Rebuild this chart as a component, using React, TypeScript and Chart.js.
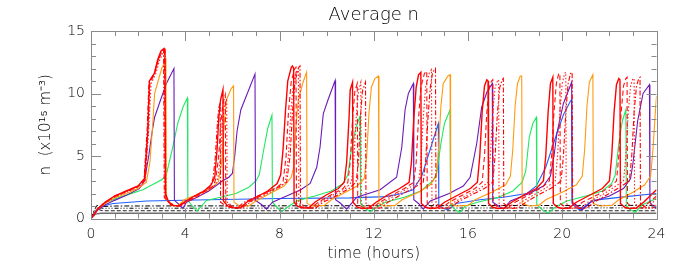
import React, { useEffect, useRef } from "react";
import { Chart, registerables } from "chart.js";

Chart.register(...registerables);

const titleText = "Average n";
const xTitle = "time (hours)";
const yTitle = "n  (x10\u00b9\u2075 m\u207b\u00b3)";
const xRange = [0, 24];
const yRange = [0, 15];
const xMajorStep = 4;
const yMajorStep = 5;

const redSolid = [[0,0],[0.15,0.4],[0.3,0.8],[0.6,1.3],[1.0,1.8],[1.5,2.2],[2.0,2.6],[2.27,3.2],[2.41,7.0],[2.48,11.0],[2.69,11.6],[2.83,12.7],[2.97,13.4],[3.1,13.6],[3.14,13.2],[3.16,2.0],[3.3,1.3],[3.5,1.05],[3.75,1.0],[3.95,1.3],[4.3,1.7],[4.8,2.2],[5.1,2.7],[5.25,3.3],[5.35,5.5],[5.42,8.0],[5.5,9.5],[5.6,10.3],[5.62,1.4],[5.8,1.0],[6.05,0.85],[6.35,0.85],[6.6,1.3],[7.0,1.7],[7.5,2.2],[7.9,2.8],[8.05,3.5],[8.15,5.5],[8.25,8.5],[8.35,11.0],[8.5,12.1],[8.55,12.2],[8.6,12.0],[8.62,1.3],[8.75,1.0],[8.95,0.85],[9.25,0.85],[9.5,1.3],[10.0,1.9],[10.5,2.4],[10.75,2.9],[10.85,4.5],[10.95,8.0],[11.0,10.3],[11.1,10.9],[11.12,1.3],[11.3,0.9],[11.5,0.8],[11.8,0.85],[12.1,1.3],[12.6,1.9],[13.1,2.4],[13.5,2.9],[13.6,4.5],[13.7,8.0],[13.8,10.5],[13.9,11.5],[14.0,11.7],[14.02,1.2],[14.2,0.9],[14.4,0.8],[14.7,0.85],[15.0,1.3],[15.6,1.9],[16.1,2.4],[16.4,2.9],[16.5,5.0],[16.6,8.5],[16.7,10.6],[16.8,11.1],[16.85,11.0],[16.87,1.2],[17.05,0.9],[17.25,0.8],[17.55,0.85],[17.85,1.3],[18.4,1.9],[18.9,2.4],[19.2,3.0],[19.3,5.0],[19.4,8.5],[19.5,10.8],[19.6,11.3],[19.62,1.2],[19.8,0.9],[20.0,0.8],[20.3,0.85],[20.6,1.3],[21.2,1.9],[21.7,2.4],[22.0,3.0],[22.1,5.0],[22.2,8.5],[22.3,10.7],[22.4,11.2],[22.45,11.1],[22.47,1.2],[22.65,0.9],[22.85,0.8],[23.15,0.85],[23.45,1.3],[24.0,2.3]];

const redDashed = [[0,0],[0.3,0.8],[0.6,1.3],[1.0,1.75],[1.5,2.15],[2.0,2.55],[2.3,3.1],[2.42,7.0],[2.5,10.8],[2.7,11.6],[2.85,12.6],[3.0,13.3],[3.12,13.4],[3.15,1.6],[3.45,1.05],[3.75,1.0],[4.0,1.3],[4.6,1.9],[5.2,2.6],[5.3,3.2],[5.42,5.0],[5.52,7.8],[5.6,9.2],[5.7,9.9],[5.72,1.3],[6.0,0.9],[6.4,0.85],[6.7,1.3],[7.3,1.9],[7.9,2.5],[8.15,2.9],[8.28,5.0],[8.38,8.5],[8.5,11.0],[8.65,12.0],[8.7,12.1],[8.72,1.2],[9.0,0.85],[9.35,0.85],[9.65,1.3],[10.2,1.9],[10.7,2.4],[10.9,2.9],[11.0,4.5],[11.1,8.0],[11.2,10.2],[11.3,10.8],[11.32,1.2],[11.6,0.8],[11.95,0.85],[12.25,1.3],[12.8,1.9],[13.3,2.4],[13.7,2.9],[13.8,4.5],[13.9,8.0],[14.0,10.5],[14.15,11.6],[14.25,11.8],[14.27,1.2],[14.55,0.8],[14.9,0.85],[15.2,1.3],[15.8,1.9],[16.3,2.4],[16.6,2.9],[16.7,5.0],[16.8,8.5],[16.9,10.5],[17.0,11.0],[17.05,11.1],[17.07,1.2],[17.35,0.8],[17.7,0.85],[18.0,1.3],[18.6,1.9],[19.15,2.5],[19.45,3.0],[19.55,5.0],[19.65,8.5],[19.75,10.8],[19.85,11.6],[19.9,11.6],[19.92,1.2],[20.2,0.8],[20.55,0.85],[20.85,1.3],[21.5,1.9],[22.0,2.5],[22.3,3.0],[22.4,5.0],[22.5,8.5],[22.6,10.6],[22.7,11.2],[22.75,11.3],[22.77,1.2],[23.05,0.8],[23.4,0.85],[23.7,1.3],[24.0,1.8]];

const redDotted = [[0,0],[0.3,0.75],[0.6,1.25],[1.0,1.7],[1.5,2.1],[2.0,2.5],[2.3,3.0],[2.45,7.0],[2.55,10.8],[2.75,11.6],[2.9,12.6],[3.05,13.2],[3.15,13.3],[3.18,1.6],[3.5,1.05],[3.8,1.0],[4.05,1.3],[4.7,1.9],[5.25,2.6],[5.38,3.2],[5.5,5.0],[5.58,7.8],[5.66,9.0],[5.76,9.6],[5.78,1.3],[6.1,0.9],[6.45,0.85],[6.75,1.3],[7.4,1.9],[8.0,2.5],[8.25,2.9],[8.38,5.0],[8.48,8.5],[8.6,11.0],[8.75,11.9],[8.8,12.0],[8.82,1.2],[9.1,0.85],[9.45,0.85],[9.75,1.3],[10.3,1.9],[10.8,2.4],[11.05,2.9],[11.15,4.5],[11.25,8.0],[11.35,10.2],[11.45,10.9],[11.47,1.2],[11.75,0.8],[12.1,0.85],[12.4,1.3],[12.95,1.9],[13.45,2.4],[13.9,2.9],[14.0,4.5],[14.1,8.0],[14.2,10.5],[14.35,11.6],[14.45,11.9],[14.47,1.2],[14.75,0.8],[15.1,0.85],[15.4,1.3],[16.0,1.9],[16.5,2.4],[16.85,2.9],[16.95,5.0],[17.05,8.5],[17.15,10.5],[17.25,11.0],[17.3,11.1],[17.32,1.2],[17.6,0.8],[17.95,0.85],[18.25,1.3],[18.8,1.9],[19.35,2.5],[19.7,3.0],[19.8,5.0],[19.9,8.5],[20.0,10.8],[20.1,11.6],[20.15,11.7],[20.17,1.2],[20.45,0.8],[20.8,0.85],[21.1,1.3],[21.7,1.9],[22.2,2.5],[22.6,3.0],[22.7,5.0],[22.8,8.5],[22.9,10.6],[23.0,11.2],[23.05,11.2],[23.07,1.2],[23.35,0.8],[23.65,0.85],[23.85,1.3],[24.0,1.6]];

const redDashDot = [[0,0],[0.3,0.8],[0.6,1.3],[1.0,1.8],[1.5,2.2],[2.0,2.6],[2.25,3.1],[2.38,7.0],[2.46,10.9],[2.68,11.6],[2.85,12.7],[3.0,13.4],[3.08,13.5],[3.11,1.7],[3.4,1.05],[3.7,1.0],[3.95,1.3],[4.5,1.9],[5.05,2.5],[5.18,3.2],[5.28,5.0],[5.36,7.5],[5.42,8.8],[5.48,9.3],[5.5,1.3],[5.8,0.9],[6.2,0.85],[6.5,1.3],[7.2,1.9],[7.95,2.5],[8.3,2.9],[8.45,5.0],[8.55,8.5],[8.66,11.0],[8.82,12.1],[8.87,12.2],[8.89,1.2],[9.2,0.85],[9.55,0.85],[9.85,1.3],[10.5,1.9],[10.95,2.4],[11.25,2.9],[11.35,4.5],[11.43,8.0],[11.52,10.2],[11.65,10.9],[11.67,1.2],[11.95,0.8],[12.3,0.85],[12.6,1.3],[13.15,1.9],[13.65,2.4],[14.1,2.9],[14.2,4.5],[14.3,8.0],[14.4,10.5],[14.5,11.7],[14.62,12.0],[14.64,1.2],[14.9,0.8],[15.25,0.85],[15.55,1.3],[16.15,1.9],[16.7,2.4],[17.05,2.9],[17.15,5.0],[17.25,8.5],[17.35,10.5],[17.45,11.1],[17.5,11.2],[17.52,1.2],[17.8,0.8],[18.15,0.85],[18.45,1.3],[19.0,1.9],[19.6,2.5],[19.95,3.0],[20.05,5.0],[20.15,8.5],[20.25,10.8],[20.35,11.6],[20.42,11.7],[20.44,1.2],[20.7,0.8],[21.05,0.85],[21.35,1.3],[21.9,1.9],[22.45,2.5],[22.85,3.0],[22.95,5.0],[23.05,8.5],[23.15,10.6],[23.25,11.2],[23.3,11.3],[23.32,1.2],[23.6,0.8],[23.85,0.85],[24.0,1.2]];

const orangeLine = [[0,0],[0.3,0.8],[0.6,1.2],[1.0,1.65],[1.5,2.0],[2.0,2.4],[2.35,2.9],[2.5,4.5],[2.6,7.0],[2.7,10.0],[2.85,11.0],[3.0,12.0],[3.18,12.7],[3.2,1.6],[3.45,1.05],[3.7,1.0],[3.95,1.5],[4.5,1.9],[5.0,2.3],[5.4,2.9],[5.55,4.5],[5.65,7.5],[5.75,9.5],[5.95,10.4],[6.05,10.6],[6.07,1.3],[6.3,1.0],[6.7,1.0],[7.0,1.4],[7.6,2.0],[8.2,2.6],[8.5,3.3],[8.6,4.1],[8.7,7.5],[8.8,9.5],[9.0,10.9],[9.15,11.7],[9.17,1.2],[9.4,1.0],[9.9,1.05],[10.2,1.5],[10.8,2.1],[11.3,2.6],[11.6,3.2],[11.7,5.0],[11.8,8.5],[11.9,10.5],[12.05,11.2],[12.2,11.4],[12.22,1.2],[12.45,1.0],[12.9,1.05],[13.2,1.5],[13.9,2.1],[14.4,2.7],[14.65,3.4],[14.75,5.5],[14.85,9.0],[14.95,10.8],[15.15,11.4],[15.24,11.5],[15.26,1.2],[15.5,1.0],[16.0,1.05],[16.3,1.5],[17.0,2.1],[17.6,2.7],[17.8,3.4],[17.9,5.5],[18.0,9.0],[18.1,10.8],[18.22,11.4],[18.28,11.4],[18.3,1.2],[18.6,1.0],[19.0,1.05],[19.3,1.5],[20.0,2.1],[20.6,2.7],[20.85,3.4],[20.95,5.5],[21.05,9.0],[21.15,10.9],[21.3,11.5],[21.32,1.2],[21.6,1.0],[22.1,1.05],[22.4,1.5],[23.0,2.1],[23.5,2.7],[23.75,3.4],[23.85,5.5],[23.95,8.5],[24.0,9.8]];

const purpleLine = [[0,0],[0.3,0.7],[0.6,1.1],[1.0,1.45],[1.5,1.85],[2.05,2.4],[2.27,3.0],[2.45,5.0],[2.6,7.0],[2.7,8.1],[2.9,9.2],[3.2,10.8],[3.52,12.0],[3.54,1.45],[3.75,1.1],[3.9,0.8],[4.05,1.3],[4.5,1.7],[5.0,2.2],[5.57,3.0],[5.85,3.3],[6.0,3.6],[6.1,5.0],[6.2,7.0],[6.36,8.7],[6.57,9.7],[6.96,11.55],[6.98,1.45],[7.25,1.1],[7.45,0.75],[7.7,1.3],[8.3,1.8],[8.9,2.3],[9.3,2.8],[9.58,4.1],[9.72,5.7],[9.86,8.4],[10.06,9.5],[10.36,11.04],[10.38,1.5],[10.6,1.2],[10.85,0.75],[11.28,1.7],[12.27,2.3],[12.97,3.3],[13.19,5.7],[13.33,8.7],[13.47,10.0],[13.68,10.8],[13.7,1.5],[13.9,1.2],[14.1,0.75],[14.4,1.4],[15.2,2.0],[15.8,2.6],[16.09,3.3],[16.37,6.0],[16.58,8.9],[16.8,10.1],[17.03,10.8],[17.05,1.3],[17.3,1.0],[17.5,0.75],[17.8,1.4],[18.6,2.0],[19.2,2.6],[19.5,3.4],[19.65,5.0],[19.77,6.8],[20.05,9.2],[20.4,10.9],[20.42,1.3],[20.65,1.0],[20.85,0.7],[21.2,1.3],[22.0,1.8],[22.6,2.4],[22.9,3.2],[23.0,4.4],[23.2,7.8],[23.43,10.0],[23.7,10.7],[23.72,1.3],[23.85,1.0],[24.0,0.8]];

const greenLine = [[0,0],[0.3,0.8],[0.64,1.3],[1.0,1.55],[1.63,1.95],[2.2,2.3],[2.7,2.8],[3.0,3.1],[3.19,3.45],[3.47,5.7],[3.68,7.6],[3.9,8.9],[4.09,9.65],[4.11,1.45],[4.3,1.0],[4.5,0.6],[4.7,1.0],[4.9,1.45],[5.5,1.7],[6.15,2.0],[6.7,2.5],[7.0,3.0],[7.14,3.5],[7.35,5.7],[7.5,7.2],[7.68,8.26],[7.7,1.3],[7.9,0.9],[8.1,0.55],[8.4,1.0],[8.8,1.45],[9.5,1.8],[10.2,2.2],[10.7,2.8],[10.9,3.5],[11.05,5.5],[11.25,7.3],[11.42,8.2],[11.44,1.2],[11.65,0.8],[11.85,0.55],[12.1,0.9],[12.5,1.3],[13.3,1.7],[14.0,2.2],[14.5,3.0],[14.67,3.6],[14.85,6.0],[15.0,7.6],[15.24,8.7],[15.26,1.1],[15.45,0.7],[15.65,0.5],[15.9,1.0],[16.4,1.3],[17.3,1.7],[17.9,2.2],[18.3,2.9],[18.45,3.8],[18.6,6.5],[18.75,7.6],[18.9,8.1],[18.92,1.1],[19.15,0.7],[19.4,0.45],[19.7,0.9],[20.2,1.4],[21.0,1.8],[21.7,2.2],[22.1,2.8],[22.25,3.5],[22.4,6.0],[22.55,7.8],[22.7,8.7],[22.72,1.0],[22.9,0.7],[23.1,0.5],[23.4,1.1],[24.0,1.6]];

const blueLine = [[0,0],[0.15,0.5],[0.38,0.94],[0.94,1.2],[2.36,1.4],[5.0,1.5],[8.0,1.6],[11.0,1.65],[12.5,1.75],[13.2,2.0],[13.67,2.3],[14.03,3.35],[14.39,5.5],[14.74,7.6],[14.76,1.1],[14.95,0.8],[15.15,0.7],[15.5,1.2],[16.5,1.5],[17.5,1.7],[18.5,2.0],[18.9,2.6],[19.3,4.1],[19.77,6.8],[20.05,8.3],[20.35,9.4],[20.4,9.5],[20.42,1.2],[20.6,0.85],[20.75,0.68],[21.3,1.45],[22.7,1.75],[24.0,2.0]];

const blackDashDot = [[0,0],[0.1,0.5],[0.25,1.05],[0.4,0.95],[1.0,1.0],[24.0,1.05]];
const blackDashDot3 = [[0,0],[0.15,0.6],[0.3,0.9],[0.5,0.82],[24.0,0.85]];
const blackDashed = [[0,0],[0.2,0.55],[0.35,0.7],[0.5,0.62],[24.0,0.62]];
const graySolid = [[0,0],[0.2,0.35],[0.4,0.42],[24.0,0.42]];

const FONT = "'DejaVu Sans', sans-serif";

const toXY = (arr: number[][]) => arr.map(([x, y]) => ({ x, y }));

const frameTicks = {
  id: "frameTicks",
  afterDatasetsDraw(chart: any) {
    const { ctx, chartArea } = chart;
    const { left, right, top, bottom } = chartArea;
    const xs = chart.scales.x;
    const ys = chart.scales.y;
    ctx.save();
    ctx.strokeStyle = "#8a8a8a";
    ctx.lineWidth = 1;
    ctx.beginPath();
    for (let h = xRange[0]; h <= xRange[1]; h += 1) {
      const px = Math.round(xs.getPixelForValue(h)) + 0.5;
      const len = h % xMajorStep === 0 ? 10 : 5;
      ctx.moveTo(px, bottom);
      ctx.lineTo(px, bottom - len);
      ctx.moveTo(px, top);
      ctx.lineTo(px, top + len);
    }
    for (let v = yRange[0]; v <= yRange[1]; v += 1) {
      const py = Math.round(ys.getPixelForValue(v)) + 0.5;
      const len = v % yMajorStep === 0 ? 10 : 5;
      ctx.moveTo(left, py);
      ctx.lineTo(left + len, py);
      ctx.moveTo(right, py);
      ctx.lineTo(right - len, py);
    }
    ctx.stroke();
    ctx.strokeRect(Math.round(left) + 0.5, Math.round(top) + 0.5, Math.round(right - left), Math.round(bottom - top));
    ctx.restore();
  },
};

export default function App() {
  const ref = useRef<HTMLCanvasElement | null>(null);
  useEffect(() => {
    if (!ref.current) return;
    const mk = (label: string, data: number[][], color: string, dash: number[], width = 1.1) => ({
      label,
      data: toXY(data),
      borderColor: color,
      backgroundColor: color,
      borderWidth: width,
      borderDash: dash,
      pointRadius: 0,
      tension: 0,
      fill: false,
    });
    const chart = new Chart(ref.current, {
      type: "line",
      data: {
        datasets: [
          mk("red solid", redSolid, "#ff0000", [], 1.4),
          mk("red dashed", redDashed, "#ff1010", [5, 3]),
          mk("red dotted", redDotted, "#ff2020", [1.5, 2]),
          mk("red dash-dot", redDashDot, "#ff0000", [5, 2, 1.5, 2]),
          mk("orange", orangeLine, "#ff9a10", []),
          mk("purple", purpleLine, "#6a1ab8", []),
          mk("green", greenLine, "#20e860", []),
          mk("blue", blueLine, "#2060ff", []),
          mk("black dash-dot", blackDashDot, "#000000", [5, 2, 1.5, 2], 1),
          mk("black dash-dot3", blackDashDot3, "#000000", [4, 2, 1, 2, 1, 2, 1, 2], 1),
          mk("black dashed", blackDashed, "#222222", [4, 2], 1),
          mk("gray solid", graySolid, "#6e6e6e", [], 1.3),
        ] as any,
      },
      options: {
        animation: false,
        responsive: false,
        devicePixelRatio: 1,
        parsing: true,
        layout: { padding: { left: 0, right: 28.5, top: 0, bottom: 0 } },
        plugins: {
          legend: { display: false },
          tooltip: { enabled: false },
          title: {
            display: true,
            text: titleText,
            fullSize: false,
            color: "#000",
            font: { family: FONT, size: 18, weight: "200" as any, lineHeight: 1.2 },
            padding: { top: 5, bottom: 4.4 },
          },
        },
        scales: {
          x: {
            type: "linear",
            min: xRange[0],
            max: xRange[1],
            grid: { display: false, drawTicks: false },
            border: { display: false },
            ticks: {
              stepSize: xMajorStep,
              color: "#000",
              padding: 7,
              maxRotation: 0,
              font: { family: FONT, size: 14, weight: "200" as any },
            },
            title: {
              display: true,
              text: xTitle,
              color: "#000",
              font: { family: FONT, size: 15, weight: "200" as any, lineHeight: 1.2 },
              padding: { top: 0, bottom: 11 },
            },
            afterFit: (s: any) => {
              s.height = 55.5;
            },
          },
          y: {
            type: "linear",
            min: yRange[0],
            max: yRange[1],
            grid: { display: false, drawTicks: false },
            border: { display: false },
            ticks: {
              stepSize: yMajorStep,
              color: "#000",
              padding: 6,
              font: { family: FONT, size: 14, weight: "200" as any },
            },
            title: {
              display: true,
              text: yTitle,
              color: "#000",
              font: { family: FONT, size: 15, weight: "200" as any, lineHeight: 1.2 },
              padding: { top: 37, bottom: 0 },
            },
            afterFit: (s: any) => {
              s.width = 91;
            },
          },
        },
      },
      plugins: [frameTicks],
    });
    return () => chart.destroy();
  }, []);
  return (
    <div style={{ position: "fixed", left: 0, top: 0, width: 685, height: 274, background: "#fff" }}>
      <canvas ref={ref} width={685} height={274} style={{ width: 685, height: 274 }} />
    </div>
  );
}
